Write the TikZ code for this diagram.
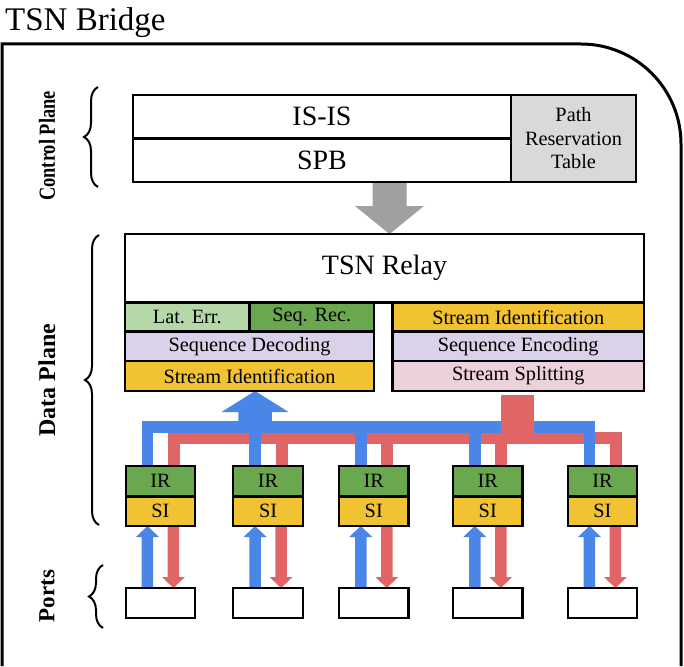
\documentclass[tikz,border=0pt]{standalone}
\usepackage{fontspec}
\setmainfont{Liberation Serif}
\usetikzlibrary{calc,backgrounds,decorations.pathreplacing}

\definecolor{busblue}{HTML}{4A86E8}
\definecolor{busred}{HTML}{E06666}
\definecolor{gdark}{HTML}{6AA84F}
\definecolor{glight}{HTML}{B6D7A8}
\definecolor{amber}{HTML}{F1C232}
\definecolor{lavender}{HTML}{D9D2E9}
\definecolor{blush}{HTML}{EAD1DC}
\definecolor{panel}{HTML}{D9D9D9}
\definecolor{flowgrey}{HTML}{A0A0A0}

% block with its top-left and bottom-right corners given
\newcommand\blk[7]{%
  \node[box, fill=#6, minimum width={#4-#2}, minimum height={#5-#3},
        anchor=north west] (#1) at (#2,#3) {#7};}

% wide arrow drawn as a filled outline:
% tail, tip, half shaft, half head, head length, colour
\newcommand\fatarrow[6]{%
  \path ($(#2)!#5!(#1)$) coordinate (fa-h);
  \fill[#6] ($(#1)!#3!90:(#2)$) -- ($(fa-h)!#3!90:(#2)$) -- ($(fa-h)!#4!90:(#2)$)
    -- (#2) -- ($(fa-h)!#4!-90:(#2)$) -- ($(fa-h)!#3!-90:(#2)$)
    -- ($(#1)!#3!-90:(#2)$) -- cycle;}

\tikzset{
  box/.style={draw, line width=2.2pt, inner sep=0pt, outer sep=0pt,
    align=center, text=black, font=\fontsize{20.3}{23.5}\selectfont},
  side/.style={rotate=90, inner sep=0pt, font=\fontsize{23}{27}\selectfont\bfseries},
  curly/.style={decorate, decoration={brace, amplitude=14pt}, line width=2pt},
  bus/.style={line width=11.5pt, line join=miter, line cap=butt},
}

\begin{document}
\begin{tikzpicture}[x=1pt, y=-1pt]
\useasboundingbox (0,0) rectangle (684,666);

% title and bridge outline
\node[anchor=base west, inner sep=0pt, font=\fontsize{33}{38}\selectfont] (title) at (5,31) {TSN Bridge};
\draw[line width=3pt] (2,666) -- (2,44) -- (581,44)
  .. controls (636.2,44) and (681,88.8) .. (681,144) -- (681,666);

% control plane
\blk{isis}{133}{95}{511}{138.5}{white}{\fontsize{28}{32}\selectfont IS-IS}
\blk{spb}{133}{138.5}{511}{182}{white}{\fontsize{28}{32}\selectfont SPB}
\blk{prt}{511}{95}{636}{182}{panel}{Path\\Reservation\\Table}

% data plane: relay and its function blocks
\blk{relay}{125}{234}{644}{302.5}{white}{\fontsize{28}{32}\selectfont TSN Relay}
\blk{laterr}{125}{302.5}{249.5}{331.5}{glight}{Lat. Err.}
\blk{seqrec}{249.5}{302.5}{374}{331.5}{gdark}{Seq. Rec.}
\blk{seqdec}{125}{331.5}{374}{361}{lavender}{Sequence Decoding}
\blk{sidl}{125}{361}{374}{391}{amber}{Stream Identification}
\blk{sidr}{392.5}{302.5}{644}{331.5}{amber}{Stream Identification}
\blk{seqenc}{392.5}{331.5}{644}{361}{lavender}{Sequence Encoding}
\blk{split}{392.5}{361}{644}{391}{blush}{Stream Splitting}

% per-port stream functions and ports
\foreach \i/\x in {1/125.7, 2/233.3, 3/339, 4/453, 5/567.7} {
  \blk{ir\i}{\x}{466}{\x+69.5}{496.5}{gdark}{IR}
  \blk{si\i}{\x}{496.5}{\x+69.5}{526}{amber}{SI}
  \blk{pt\i}{\x}{588}{\x+69.5}{618}{white}{}
  \coordinate (b\i) at ([xshift=-13pt]ir\i.north);
  \coordinate (r\i) at ([xshift=13.5pt]ir\i.north);
}

% bus levels
\coordinate (bb) at (0,427);
\coordinate (rb) at (0,438);

\begin{scope}[on background layer]
  % grey arrow from control plane to relay
  \fatarrow{[xshift=5pt]relay.north |- spb.south}{[xshift=5pt]relay.north}{17pt}{34.5pt}{28pt}{flowgrey}
  % red distribution bus
  \draw[bus, busred, line width=12pt] (r1) -- (r1 |- rb) -- (r5 |- rb) -- (r5);
  \foreach \i in {2,3,4} \draw[bus, busred, line width=12pt] (r\i |- rb) -- (r\i);
  % blue collection bus
  \draw[bus, busblue] (b1) -- (b1 |- bb) -- (b5 |- bb) -- (b5);
  \foreach \i in {2,3,4} \draw[bus, busblue] (b\i |- bb) -- (b\i);
  \fatarrow{b2 |- bb}{b2 |- sidl.south}{16.75pt}{33.5pt}{21pt}{busblue}
  % red feed from stream splitting
  \draw[busred, line width=33pt, line cap=butt]
    ($(split.south)+(-0.75,4)$) -- ($(split.south |- rb)+(-0.75,6)$);
  % port arrows
  \foreach \i in {1,...,5} {
    \fatarrow{[xshift=-13pt]pt\i.north}{[xshift=-13pt]si\i.south}{5.75pt}{11.5pt}{11pt}{busblue}
    \fatarrow{[xshift=13pt]si\i.south}{[xshift=13pt]pt\i.north}{5.75pt}{11.5pt}{11pt}{busred}
  }
\end{scope}

% plane labels and braces
\node[side, xscale=0.8] (lcp) at (47,146) {Control Plane};
\node[side, font=\fontsize{24}{28}\selectfont\bfseries] (ldp) at (47,380) {Data Plane};
\node[side] (lpt) at (47,596) {Ports};
\draw[curly] (98,187) -- (98,87);
\draw[curly] (99,525) -- (99,235);
\draw[curly] (103,628) -- (103,565);
\end{tikzpicture}
\end{document}
